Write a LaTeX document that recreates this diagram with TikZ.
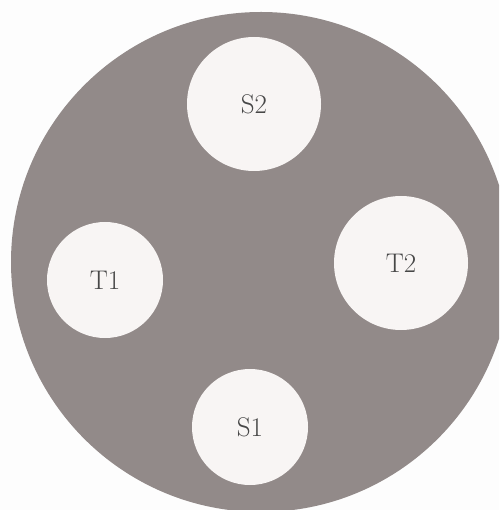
\documentclass[tikz,border=0pt]{standalone}
\usepackage{tikz}
\usetikzlibrary{positioning}
\definecolor{discgray}{RGB}{146,138,137}
\definecolor{holewhite}{RGB}{248,245,244}
\definecolor{pagewhite}{RGB}{253,253,253}

\begin{document}
\begin{tikzpicture}[x=1pt,y=-1pt,font=\fontsize{27}{30}\selectfont,every node/.style={circle,inner sep=0pt,fill=holewhite,text=black!72}]
	\useasboundingbox (0,0) rectangle (499,510);
	\clip (0,0) rectangle (499,510);
	\fill[pagewhite] (0,0) rectangle (499,510);

	\node at (261,262) [fill=discgray,minimum size=500pt] (disc) {};

	\node at (254,104) [minimum size=134pt] (S2) {S2};
	\node at (105,280) [minimum size=116pt] (T1) {T1};
	\node at (401,263) [minimum size=134pt] (T2) {T2};
	\node at (250,427) [minimum size=116pt] (S1) {S1};
\end{tikzpicture}
\end{document}
